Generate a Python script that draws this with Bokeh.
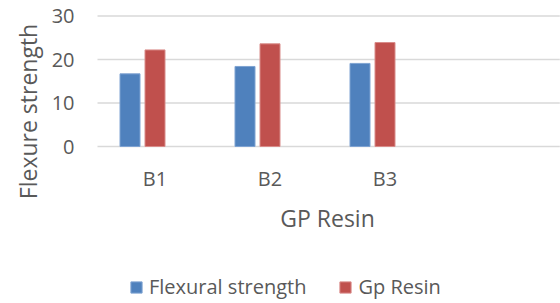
import math
from bokeh.plotting import figure
from bokeh.models import Range1d, Legend, LegendItem, ColumnDataSource
from bokeh.core.properties import value
from bokeh.embed import file_html
from bokeh.resources import INLINE

# ---- data ----
categories = ["B1", "B2", "B3"]
flexural_strength = [16.7, 18.4, 19.1]
gp_resin = [22.2, 23.6, 23.9]
y_ticks = [0, 10, 20, 30]
y_tick_labels = ["0", "10", "20", "30"]
x_title = "GP Resin"
y_title = "Flexure strength"
series_names = ["Flexural strength", "Gp Resin"]
n_slots = 4  # category slots on the axis (last one empty)

# ---- style / layout ----
FONT = "Open Sans"
TXT = "#595959"
BLUE = "#4F81BD"
RED = "#C0504D"
GRID = "#D9D9D9"
W, H = 560, 303
PLOT_LEFT, PLOT_TOP, PLOT_BOTTOM = 97, 15.5, 146   # pixel edges of the plotting area
SLOT_PX = 115                                        # width of one category slot
Y_MAX = 30
PX_PER_UNIT = (PLOT_BOTTOM - PLOT_TOP) / Y_MAX

def xd(px):  # canvas pixel -> data x
    return (px - PLOT_LEFT) / SLOT_PX

def yd(py):  # canvas pixel (from top) -> data y
    return (PLOT_BOTTOM - py) / PX_PER_UNIT

p = figure(
    width=W, height=H,
    x_range=Range1d(xd(0), xd(W)), y_range=Range1d(yd(H), yd(0)),
    x_axis_location=None, y_axis_location=None,
    output_backend="svg", toolbar_location=None,
    min_border=0,
)
p.outline_line_color = None
p.grid.visible = False
p.background_fill_color = "white"
p.border_fill_color = "white"

# gridlines at tick values
p.segment(x0=[0] * len(y_ticks), x1=[n_slots + 0.02] * len(y_ticks), y0=y_ticks, y1=y_ticks,
          line_color=GRID, line_width=1.5)

# bars
centers = [i + 0.5 for i in range(len(categories))]
bar_w = 20 / SLOT_PX
offset = 25 / SLOT_PX
src = ColumnDataSource(dict(
    xb=[c - offset for c in centers], xr=centers,
    flex=flexural_strength, gp=gp_resin))
r1 = p.vbar(x="xb", top="flex", width=bar_w, source=src,
            fill_color=BLUE, line_color="#7FA3D2", line_width=1)
r2 = p.vbar(x="xr", top="gp", width=bar_w, source=src,
            fill_color=RED, line_color="#D98C8A", line_width=1)

# y tick labels
p.text(x=[xd(PLOT_LEFT - 23)] * len(y_ticks), y=y_ticks, text=y_tick_labels,
       text_align="right", text_baseline="middle",
       text_font=value(FONT), text_font_size="20px", text_color=TXT)

# category labels
p.text(x=centers, y=[yd(178)] * len(categories), text=categories,
       text_align="center", text_baseline="middle",
       text_font=value(FONT), text_font_size="20px", text_color=TXT)

# axis titles
p.text(x=[n_slots / 2], y=[yd(217)], text=[x_title],
       text_align="center", text_baseline="middle",
       text_font=value(FONT), text_font_size="23px", text_color=TXT)
p.text(x=[xd(27)], y=[yd(111)], text=[y_title], angle=math.pi / 2,
       text_align="center", text_baseline="middle",
       text_font=value(FONT), text_font_size="23px", text_color=TXT)

legend = Legend(
    items=[LegendItem(label=series_names[0], renderers=[r1]),
           LegendItem(label=series_names[1], renderers=[r2])],
    orientation="horizontal", location=(129, 3),
    glyph_width=14, glyph_height=14, label_standoff=6, spacing=32,
    padding=0, margin=0, border_line_color=None, background_fill_alpha=0,
    label_text_font=FONT, label_text_font_size="20px", label_text_color=TXT,
)
p.add_layout(legend)

open("out.html", "w").write(file_html(p, INLINE))
